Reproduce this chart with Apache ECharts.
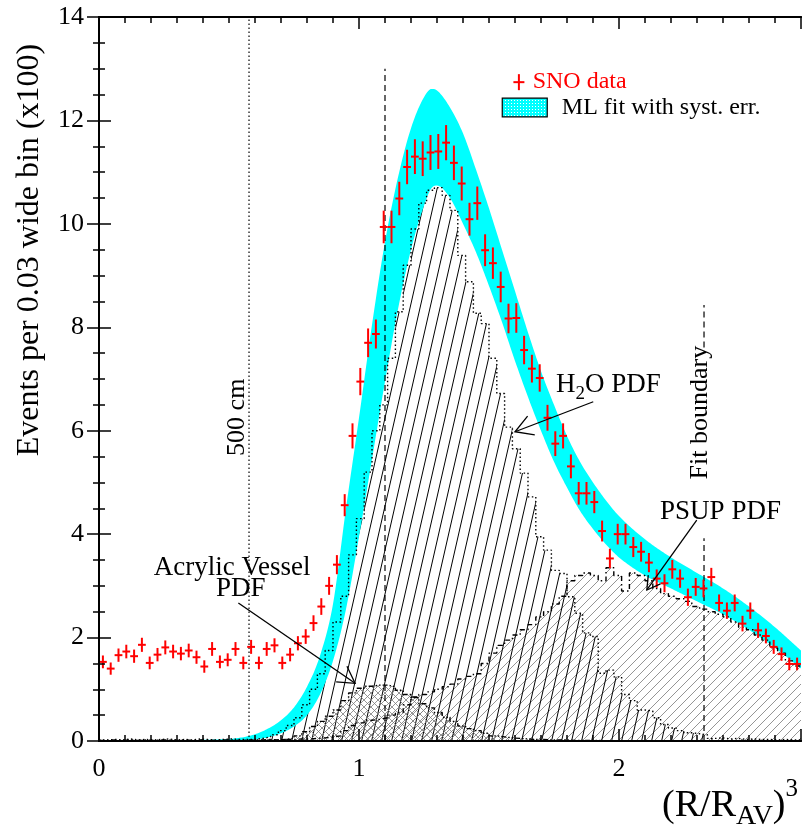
<!DOCTYPE html>
<html>
<head>
<meta charset="utf-8">
<script src="https://cdn.jsdelivr.net/npm/echarts@6/dist/echarts.min.js"></script>
<style>
  html, body { margin: 0; padding: 0; background: #ffffff; }
  #chart { width: 805px; height: 832px; }
</style>
</head>
<body>
<div id="chart"></div>
<script>
// ---- data: (R/R_AV)^3 distribution, 0.03 wide bins from 0 to 2.7 ----
const BIN_WIDTH = 0.03;

// SNO data, events per bin (x100)
const snoCounts = [
  1.53, 1.40, 1.66, 1.73, 1.64, 1.86, 1.51, 1.67, 1.81, 1.73,
  1.69, 1.75, 1.62, 1.44, 1.78, 1.53, 1.57, 1.78, 1.51, 1.82,
  1.51, 1.78, 1.85, 1.51, 1.67, 1.89, 2.02, 2.28, 2.60, 3.00,
  3.41, 4.56, 5.90, 6.95, 7.70, 7.87, 9.94, 9.94, 10.49, 11.10,
  11.30, 11.26, 11.38, 11.40, 11.57, 11.18, 10.78, 10.09, 10.40, 9.49,
  9.24, 8.78, 8.17, 8.18, 7.56, 7.20, 7.02, 6.25, 5.75, 5.90,
  5.31, 4.79, 4.79, 4.62, 4.06, 3.53, 4.00, 4.00, 3.75, 3.66,
  3.45, 3.14, 3.05, 3.32, 3.14, 2.78, 2.98, 2.95, 3.17, 2.67,
  2.52, 2.67, 2.27, 2.52, 2.14, 2.03, 1.82, 1.68, 1.49, 1.49
];

// ML fit band with systematic error (lower and upper edge)
const bandX    = [0.00, 0.30, 0.50, 0.55, 0.60, 0.65, 0.70, 0.75, 0.80, 0.85, 0.90, 0.95, 1.00, 1.05, 1.10, 1.15, 1.20, 1.25, 1.28, 1.30, 1.35, 1.40, 1.45, 1.50, 1.55, 1.60, 1.65, 1.70, 1.75, 1.80, 1.85, 1.90, 1.95, 2.00, 2.10, 2.20, 2.30, 2.40, 2.50, 2.60, 2.70];
const bandLow  = [0.00, 0.00, 0.00, 0.01, 0.03, 0.07, 0.15, 0.28, 0.50, 0.90, 1.55, 2.55, 3.95, 5.45, 6.95, 8.35, 9.50, 10.35, 10.70, 10.74, 10.50, 10.00, 9.45, 8.80, 8.10, 7.35, 6.65, 6.00, 5.40, 4.90, 4.45, 4.10, 3.80, 3.55, 3.20, 2.95, 2.70, 2.45, 2.15, 1.80, 1.40];
const bandHigh = [0.02, 0.02, 0.04, 0.07, 0.13, 0.24, 0.40, 0.65, 1.05, 1.65, 2.65, 4.50, 6.25, 8.05, 9.65, 10.90, 11.85, 12.45, 12.61, 12.58, 12.25, 11.75, 11.05, 10.30, 9.50, 8.70, 7.90, 7.15, 6.50, 5.90, 5.40, 5.00, 4.65, 4.35, 3.90, 3.55, 3.25, 2.95, 2.60, 2.20, 1.75];

// Monte Carlo PDFs, per bin
const h2oPdf = [
  0.02, 0.03, 0.02, 0.04, 0.02, 0.03, 0.02, 0.03, 0.04, 0.02,
  0.03, 0.02, 0.04, 0.03, 0.02, 0.03, 0.04, 0.03, 0.03, 0.03,
  0.05, 0.08, 0.12, 0.20, 0.30, 0.45, 0.70, 1.00, 1.30, 1.75,
  2.30, 2.80, 3.60, 4.30, 5.20, 6.00, 6.50, 7.40, 8.30, 9.20,
  9.90, 10.40, 10.65, 10.70, 10.55, 10.26, 9.39, 8.88, 8.27, 8.07,
  7.40, 6.72, 6.07, 5.65, 5.18, 4.72, 3.95, 3.69, 3.30, 3.24,
  2.79, 2.47, 2.09, 2.02, 1.31, 1.37, 1.24, 0.90, 0.78, 0.60,
  0.58, 0.45, 0.32, 0.25, 0.20, 0.16, 0.14, 0.12, 0.05, 0.06,
  0.04, 0.05, 0.03, 0.04, 0.03, 0.03, 0.02, 0.03, 0.02, 0.02
];
const psupPdf = [
  0.01, 0.02, 0.01, 0.02, 0.01, 0.02, 0.01, 0.02, 0.02, 0.01,
  0.02, 0.01, 0.02, 0.02, 0.01, 0.02, 0.02, 0.01, 0.02, 0.02,
  0.02, 0.03, 0.02, 0.03, 0.03, 0.04, 0.04, 0.05, 0.06, 0.08,
  0.10, 0.20, 0.30, 0.35, 0.40, 0.42, 0.45, 0.50, 0.55, 0.70,
  0.85, 0.90, 0.95, 1.00, 1.05, 1.10, 1.20, 1.25, 1.30, 1.50,
  1.70, 1.85, 1.95, 2.05, 2.15, 2.25, 2.40, 2.50, 2.65, 2.80,
  3.10, 3.20, 3.25, 3.20, 3.10, 3.35, 3.20, 2.90, 3.25, 3.20,
  3.10, 2.95, 2.85, 2.80, 2.75, 2.70, 2.60, 2.55, 2.50, 2.45,
  2.40, 2.30, 2.20, 2.15, 2.05, 1.95, 1.80, 1.70, 1.55, 1.45
];
const avPdf = [
  0, 0, 0, 0, 0, 0, 0, 0, 0, 0,
  0, 0, 0, 0, 0, 0, 0, 0, 0, 0.01,
  0.01, 0.02, 0.02, 0.03, 0.05, 0.10, 0.18, 0.28, 0.38, 0.48,
  0.60, 0.78, 0.93, 1.02, 1.06, 1.08, 1.08, 1.05, 0.98, 0.90,
  0.84, 0.72, 0.64, 0.55, 0.46, 0.38, 0.29, 0.24, 0.20, 0.15,
  0.10, 0.08, 0.06, 0.05, 0.04, 0.03, 0.03, 0.02, 0.02, 0.02,
  0.01, 0.01, 0.01, 0.01, 0, 0, 0, 0, 0, 0,
  0, 0, 0, 0, 0, 0, 0, 0, 0, 0,
  0, 0, 0, 0, 0, 0, 0, 0, 0, 0
];

// reference positions along (R/R_AV)^3
const cut500cm = 0.577;
const avDashed = 1.1;
const fitBoundary = 2.327;

const xTickLabels = ['0', '1', '2'];
const yTickLabels = ['0', '2', '4', '6', '8', '10', '12', '14'];

// ---- helpers ----
const SERIF = '"Liberation Serif", "Times New Roman", "DejaVu Serif", serif';

function hatchCanvas(w, h, segs, color, lw, bg) {
  const c = document.createElement('canvas');
  c.width = w; c.height = h;
  const g = c.getContext('2d');
  if (bg) { g.fillStyle = bg; g.fillRect(0, 0, w, h); }
  g.strokeStyle = color; g.lineWidth = lw;
  g.beginPath();
  segs.forEach(s => { g.moveTo(s[0], s[1]); g.lineTo(s[2], s[3]); });
  g.stroke();
  return c;
}
const h2oHatch  = hatchCanvas(10, 44, [[0, 44, 10, 0], [-10, 44, 0, 0], [10, 44, 20, 0]], '#000000', 1);
const psupHatch = hatchCanvas(9, 9, [[0, 9, 9, 0], [-9, 9, 0, 0], [9, 9, 18, 0]], '#7a7a7a', 0.8);
const avHatch   = hatchCanvas(7, 7, [[0, 7, 7, 0], [-7, 7, 0, 0], [7, 7, 14, 0], [0, 0, 7, 7], [-7, 0, 0, 7], [7, 0, 14, 7]], '#7a7a7a', 0.8);
const legendDots = (function () {
  const c = document.createElement('canvas');
  c.width = 3; c.height = 3;
  const g = c.getContext('2d');
  g.fillStyle = '#00ffff'; g.fillRect(0, 0, 3, 3);
  g.fillStyle = '#ffffff'; g.fillRect(1, 1, 1, 1);
  return c;
})();

// monotone cubic (Fritsch-Carlson) through the band knots, for a smooth edge
function monotoneCurve(xs, ys, step) {
  const n = xs.length, d = [], m = new Array(n);
  for (let i = 0; i < n - 1; i++) d.push((ys[i + 1] - ys[i]) / (xs[i + 1] - xs[i]));
  m[0] = d[0]; m[n - 1] = d[n - 2];
  for (let i = 1; i < n - 1; i++) m[i] = (d[i - 1] * d[i] <= 0) ? 0 : (d[i - 1] + d[i]) / 2;
  for (let i = 0; i < n - 1; i++) {
    if (d[i] === 0) { m[i] = 0; m[i + 1] = 0; continue; }
    const a = m[i] / d[i], b = m[i + 1] / d[i], s = a * a + b * b;
    if (s > 9) { const t = 3 / Math.sqrt(s); m[i] = t * a * d[i]; m[i + 1] = t * b * d[i]; }
  }
  const out = [];
  for (let i = 0; i < n - 1; i++) {
    const h = xs[i + 1] - xs[i];
    const k = Math.max(1, Math.ceil(h / step));
    for (let j = 0; j < k; j++) {
      const t = j / k, t2 = t * t, t3 = t2 * t;
      const y = (2 * t3 - 3 * t2 + 1) * ys[i] + (t3 - 2 * t2 + t) * h * m[i] +
                (-2 * t3 + 3 * t2) * ys[i + 1] + (t3 - t2) * h * m[i + 1];
      out.push([xs[i] + t * h, Math.max(0, y)]);
    }
  }
  out.push([xs[n - 1], ys[n - 1]]);
  return out;
}

function histData(vals) {
  const d = vals.map((v, i) => [i * BIN_WIDTH, v]);
  d.push([vals.length * BIN_WIDTH, vals[vals.length - 1]]);
  return d;
}
function histFill(name, vals, pattern) {
  return {
    name, type: 'line', step: 'end', data: histData(vals), symbol: 'none',
    lineStyle: { width: 0 }, areaStyle: { color: { image: pattern, repeat: 'repeat' }, opacity: 1 },
    z: 1, silent: true
  };
}
function histOutline(name, vals, dash) {
  return {
    name, type: 'line', step: 'end', data: histData(vals), symbol: 'none',
    lineStyle: { color: '#000000', width: 1.4, type: dash }, z: 3, silent: true
  };
}
function vline(x, y0, y1, dash) {
  return {
    type: 'line', data: [[x, y0], [x, y1]], symbol: 'none',
    lineStyle: { color: '#000000', width: 1.2, type: dash }, z: 3, silent: true
  };
}

const isInt = v => Math.abs(v - Math.round(v)) < 1e-6;

const axisLineStyle = { show: true, lineStyle: { color: '#000000', width: 2 } };
function xAxisDef(position, interval, tickLen, withLabels) {
  return {
    type: 'value', position, min: 0, max: 2.7, interval,
    axisLine: axisLineStyle,
    axisTick: { show: true, inside: true, length: tickLen, lineStyle: { color: '#000000', width: 1.5 } },
    axisLabel: withLabels ? {
      show: true, margin: 15, color: '#000000', fontFamily: SERIF, fontSize: 26,
      formatter: v => (isInt(v) && xTickLabels[Math.round(v)] !== undefined) ? xTickLabels[Math.round(v)] : ''
    } : { show: false },
    splitLine: { show: false }, z: 10
  };
}
function yAxisDef(position, withLabels) {
  return {
    type: 'value', position, min: 0, max: 14, interval: 2,
    axisLine: axisLineStyle,
    axisTick: { show: true, inside: true, length: 12, lineStyle: { color: '#000000', width: 1.5 } },
    minorTick: { show: true, splitNumber: 4, length: 6, lineStyle: { color: '#000000', width: 1.5 } },
    axisLabel: withLabels ? {
      show: true, margin: 15, color: '#000000', fontFamily: SERIF, fontSize: 26,
      formatter: v => yTickLabels[Math.round(v / 2)]
    } : { show: false },
    splitLine: { show: false }, minorSplitLine: { show: false }, z: 10
  };
}

const chart = echarts.init(document.getElementById('chart'), null, { renderer: 'canvas' });

const upperEdge = monotoneCurve(bandX, bandHigh, 0.005);
const lowerEdge = monotoneCurve(bandX, bandLow, 0.005);

const option = {
  animation: false,
  backgroundColor: '#ffffff',
  grid: { left: 99, right: 4, top: 17, bottom: 91, containLabel: false },
  xAxis: [
    xAxisDef('bottom', 0.1, 6, true),
    xAxisDef('bottom', 1, 12, false),
    xAxisDef('top', 0.1, 6, false),
    xAxisDef('top', 1, 12, false)
  ],
  yAxis: [yAxisDef('left', true), yAxisDef('right', false)],
  series: [
    histFill('PSUP fill', psupPdf, psupHatch),
    histFill('H2O fill', h2oPdf, h2oHatch),
    histFill('AV fill', avPdf, avHatch),
    {
      name: 'ML fit with syst. err.', type: 'custom', z: 2, silent: true, clip: true,
      data: [[bandX[0], bandLow[0]]],
      renderItem: function (params, api) {
        const pts = upperEdge.map(p => api.coord(p))
          .concat(lowerEdge.slice().reverse().map(p => api.coord(p)));
        return { type: 'polygon', shape: { points: pts }, style: { fill: '#00ffff', stroke: null } };
      }
    },
    histOutline('H2O outline', h2oPdf, [1.5, 2.5]),
    histOutline('PSUP outline', psupPdf, [5, 3, 1.5, 3]),
    histOutline('AV outline', avPdf, [5, 2, 1.5, 2, 1.5, 2]),
    vline(cut500cm, 0, 14, [1.5, 2.5]),
    vline(avDashed, 0, 13, [6, 4]),
    vline(fitBoundary, 0, 3.92, [6, 4]),
    vline(fitBoundary, 7.61, 8.43, [6, 4]),
    {
      name: 'SNO data', type: 'custom', z: 5, silent: true,
      data: snoCounts.map((v, i) => [(i + 0.5) * BIN_WIDTH, v]),
      renderItem: function (params, api) {
        const x = api.value(0), y = api.value(1);
        const err = Math.sqrt(y) / 10;   // Poisson error on 100*y counts, in units of 100
        const a = api.coord([x - BIN_WIDTH / 2, y]);
        const b = api.coord([x + BIN_WIDTH / 2, y]);
        const c = api.coord([x, y - err]);
        const d = api.coord([x, y + err]);
        const st = { stroke: '#ff0000', lineWidth: 2 };
        return {
          type: 'group', children: [
            { type: 'line', shape: { x1: a[0], y1: a[1], x2: b[0], y2: b[1] }, style: st },
            { type: 'line', shape: { x1: c[0], y1: c[1], x2: d[0], y2: d[1] }, style: st }
          ]
        };
      }
    }
  ]
};
chart.setOption(option);

// ---- annotations, anchored in data coordinates ----
const P = (x, y) => chart.convertToPixel({ xAxisIndex: 0, yAxisIndex: 0 }, [x, y]);
const measureCtx = document.createElement('canvas').getContext('2d');
function textW(t, size) { measureCtx.font = size + 'px ' + SERIF; return measureCtx.measureText(t).width; }

function txt(x, y, text, size, opts) {
  opts = opts || {};
  return {
    type: 'text', x, y, rotation: opts.rotation || 0, z: 20, silent: true,
    style: {
      text, fontFamily: SERIF, fontSize: size, fill: opts.color || '#000000',
      align: opts.align || 'left', verticalAlign: 'middle',
      textAlign: opts.align || 'left', textVerticalAlign: 'middle'
    }
  };
}
// a run of text pieces with sub/superscripts, starting at left x, middle y
function run(x, y, pieces) {
  const out = [];
  let cx = x;
  pieces.forEach(p => {
    out.push(txt(cx, y + (p.dy || 0), p.t, p.size));
    cx += textW(p.t, p.size);
  });
  return out;
}
function arrow(from, to, head) {
  const p0 = P(from[0], from[1]), p1 = P(to[0], to[1]);
  const ang = Math.atan2(p0[1] - p1[1], p0[0] - p1[0]);
  const w = Math.PI / 6;
  const h1 = [p1[0] + head * Math.cos(ang + w), p1[1] + head * Math.sin(ang + w)];
  const h2 = [p1[0] + head * Math.cos(ang - w), p1[1] + head * Math.sin(ang - w)];
  const st = { stroke: '#000000', lineWidth: 1.3 };
  return [
    { type: 'line', z: 20, silent: true, shape: { x1: p0[0], y1: p0[1], x2: p1[0], y2: p1[1] }, style: st },
    { type: 'polyline', z: 20, silent: true, shape: { points: [h1, p1, h2] }, style: Object.assign({ fill: null }, st) }
  ];
}

const g = [];
// legend
const lc = P(1.615, 12.74);
g.push({ type: 'line', z: 20, silent: true, shape: { x1: lc[0], y1: lc[1] - 8, x2: lc[0], y2: lc[1] + 8 }, style: { stroke: '#ff0000', lineWidth: 2 } });
g.push({ type: 'line', z: 20, silent: true, shape: { x1: lc[0] - 5.5, y1: lc[1], x2: lc[0] + 5.5, y2: lc[1] }, style: { stroke: '#ff0000', lineWidth: 2 } });
const ls = P(1.668, 12.74);
g.push(txt(ls[0], ls[1], 'SNO data', 24, { color: '#ff0000' }));
const b0 = P(1.551, 12.43), b1 = P(1.724, 12.07);
g.push({ type: 'rect', z: 20, silent: true, shape: { x: b0[0], y: b0[1], width: b1[0] - b0[0], height: b1[1] - b0[1] },
  style: { fill: { image: legendDots, repeat: 'repeat' }, stroke: '#000000', lineWidth: 1.2 } });
const lm = P(1.78, 12.25);
g.push(txt(lm[0], lm[1], 'ML fit with syst. err.', 24));

// vertical line labels
const c500 = P(0.533, 6.26);
g.push(txt(c500[0], c500[1], '500 cm', 26, { rotation: Math.PI / 2, align: 'center' }));
const cfb = P(2.313, 6.35);
g.push(txt(cfb[0], cfb[1], 'Fit boundary', 26, { rotation: Math.PI / 2, align: 'center' }));

// PDF labels
const ch = P(1.758, 6.88);
run(ch[0], ch[1], [{ t: 'H', size: 27 }, { t: '2', size: 19, dy: 9 }, { t: 'O PDF', size: 27 }]).forEach(e => g.push(e));
arrow([1.901, 6.56], [1.6, 5.98], 20).forEach(e => g.push(e));

const cp = P(2.158, 4.43);
g.push(txt(cp[0], cp[1], 'PSUP PDF', 27));
arrow([2.299, 4.27], [2.107, 2.92], 15).forEach(e => g.push(e));

const ca = P(0.512, 3.34);
g.push(txt(ca[0], ca[1], 'Acrylic Vessel', 27, { align: 'center' }));
const cpd = P(0.545, 2.94);
g.push(txt(cpd[0], cpd[1], 'PDF', 27, { align: 'center' }));
arrow([0.536, 2.67], [0.985, 1.115], 19).forEach(e => g.push(e));

// axis titles
g.push(txt(30, 250, 'Events per 0.03 wide bin (x100)', 32, { rotation: Math.PI / 2, align: 'center' }));
const xtPieces = [{ t: '(R/R', size: 38 }, { t: 'AV', size: 28, dy: 11 }, { t: ')', size: 38 }, { t: '3', size: 25, dy: -17 }];
const xtWidth = xtPieces.reduce((s, p) => s + textW(p.t, p.size), 0);
run(798 - xtWidth, 806, xtPieces).forEach(e => g.push(e));

chart.setOption({ graphic: { elements: g } });
</script>
</body>
</html>
